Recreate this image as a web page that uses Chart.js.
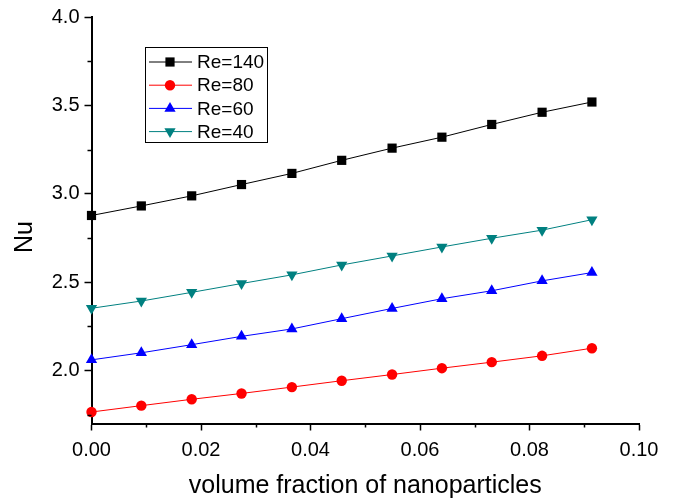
<!DOCTYPE html>
<html>
<head>
<meta charset="utf-8">
<script src="https://cdn.jsdelivr.net/npm/chart.js@4.4.1/dist/chart.umd.min.js"></script>
<style>
html,body{margin:0;padding:0;background:#fff;}
#wrap{width:679px;height:502px;position:relative;}
</style>
</head>
<body>
<div id="wrap"><canvas id="c" width="679" height="502"></canvas></div>
<script>
const xValues = [0, 0.0091, 0.0183, 0.0274, 0.0366, 0.0457, 0.0549, 0.0640, 0.0731, 0.0823, 0.0914];
const re140 = [2.877, 2.931, 2.988, 3.052, 3.115, 3.189, 3.258, 3.320, 3.392, 3.461, 3.519];
const re80  = [1.765, 1.801, 1.837, 1.870, 1.906, 1.942, 1.977, 2.013, 2.047, 2.083, 2.126];
const re60  = [2.060, 2.100, 2.146, 2.193, 2.235, 2.293, 2.351, 2.406, 2.451, 2.507, 2.554];
const re40  = [2.352, 2.393, 2.442, 2.492, 2.541, 2.597, 2.648, 2.699, 2.748, 2.794, 2.853];
const seriesNames = ['Re=140', 'Re=80', 'Re=60', 'Re=40'];
const xTickLabels = ['0.00','0.02','0.04','0.06','0.08','0.10'];
const yTickLabels = ['2.0','2.5','3.0','3.5','4.0'];
const xTitle = 'volume fraction of nanoparticles';
const yTitle = 'Nu';

const FONT = 'Arial, "Liberation Sans", sans-serif';

function pts(ys){ return xValues.map((x,i)=>({x:x,y:ys[i]})); }

const styles = [
  {color:'#000000', style:'rect', radius:6.5, rotation:0},
  {color:'#ff0000', style:'circle', radius:5.2, rotation:0},
  {color:'#0000ff', style:'triangle', radius:6.5, rotation:0},
  {color:'#008080', style:'triangle', radius:6.5, rotation:180}
];
const allData = [re140, re80, re60, re40];

const datasets = allData.map((d,i)=>({
  label: seriesNames[i],
  data: pts(d),
  borderColor: styles[i].color,
  backgroundColor: styles[i].color,
  borderWidth: 1,
  pointStyle: styles[i].style,
  pointRadius: styles[i].radius,
  pointRotation: styles[i].rotation,
  pointBorderWidth: 0,
  pointHoverRadius: styles[i].radius,
  tension: 0,
  clip: false
}));

// minor ticks, y title, custom legend
const extras = {
  id:'extras',
  afterDraw(chart){
    const ctx = chart.ctx;
    const xs = chart.scales.x, ys = chart.scales.y;
    ctx.save();
    ctx.strokeStyle = '#000';
    ctx.lineWidth = 1.5;
    for (let k=0;k<5;k++){
      const v = 0.01 + 0.02*k;
      const px = Math.round(xs.getPixelForValue(v))+0.5;
      ctx.beginPath(); ctx.moveTo(px, ys.bottom); ctx.lineTo(px, ys.bottom+4); ctx.stroke();
    }
    for (let k=0;k<5;k++){
      const v = 1.75 + 0.5*k;
      const py = Math.round(ys.getPixelForValue(v))+0.5;
      ctx.beginPath(); ctx.moveTo(xs.left, py); ctx.lineTo(xs.left-4, py); ctx.stroke();
    }
    // y title
    ctx.save();
    ctx.translate(25, 237);
    ctx.rotate(-Math.PI/2);
    ctx.font = '25px ' + FONT;
    ctx.fillStyle = '#000';
    ctx.textAlign = 'center';
    ctx.textBaseline = 'middle';
    ctx.fillText(yTitle, 0, 0);
    ctx.restore();
    // legend
    const lx = 145, ly = 47, lw = 122, lh = 95;
    ctx.lineWidth = 1;
    ctx.strokeStyle = '#000';
    ctx.strokeRect(lx+0.5, ly+0.5, lw, lh);
    ctx.font = '19px ' + FONT;
    ctx.textBaseline = 'middle';
    ctx.textAlign = 'left';
    chart.data.datasets.forEach((ds,i)=>{
      const yy = ly + 15 + i*23.2;
      ctx.strokeStyle = ds.borderColor;
      ctx.lineWidth = 1;
      ctx.beginPath(); ctx.moveTo(lx+4, yy); ctx.lineTo(lx+47, yy); ctx.stroke();
      ctx.fillStyle = ds.backgroundColor;
      Chart.helpers.drawPoint(ctx, {pointStyle: ds.pointStyle, radius: ds.pointRadius, rotation: ds.pointRotation, borderWidth:0}, lx+25, yy);
      ctx.fillStyle = '#000';
      ctx.fillText(ds.label, lx+52, yy+1);
    });
    ctx.restore();
  }
};

new Chart(document.getElementById('c'), {
  type: 'line',
  data: { datasets },
  plugins: [extras],
  options: {
    responsive: false,
    animation: false,
    events: [],
    layout: { padding: { left: 0, top: 15, right: 40, bottom: 0 } },
    plugins: { legend: { display: false }, tooltip: { enabled: false } },
    scales: {
      x: {
        type: 'linear',
        min: 0, max: 0.1,
        afterFit(s){ s.height = 78.5; },
        afterBuildTicks(s){ s.ticks = xTickLabels.map(t=>({value:parseFloat(t)})); },
        grid: { drawOnChartArea: false, drawTicks: true, tickLength: 7, tickColor: '#000', tickWidth: 1.5 },
        border: { display: true, color: '#000', width: 2 },
        ticks: { color: '#000', padding: 8, maxRotation: 0, font: { family: FONT, size: 20 },
                 callback: (v)=>{ const i = xTickLabels.findIndex(t=>Math.abs(parseFloat(t)-v)<1e-9); return i>=0?xTickLabels[i]:''; } },
        title: { display: true, text: xTitle, color: '#000', font: { family: FONT, size: 25 }, padding: { top: 0, bottom: 1 } }
      },
      y: {
        type: 'linear',
        min: 1.7, max: 4.0,
        afterFit(s){ s.width = 91.5; },
        afterBuildTicks(s){ s.ticks = yTickLabels.map(t=>({value:parseFloat(t)})); },
        grid: { drawOnChartArea: false, drawTicks: true, tickLength: 7, tickColor: '#000', tickWidth: 1.5 },
        border: { display: true, color: '#000', width: 2 },
        ticks: { color: '#000', padding: 5, font: { family: FONT, size: 20 },
                 callback: (v)=>{ const i = yTickLabels.findIndex(t=>Math.abs(parseFloat(t)-v)<1e-9); return i>=0?yTickLabels[i]:''; } },
        title: { display: false }
      }
    }
  }
});
</script>
</body>
</html>
